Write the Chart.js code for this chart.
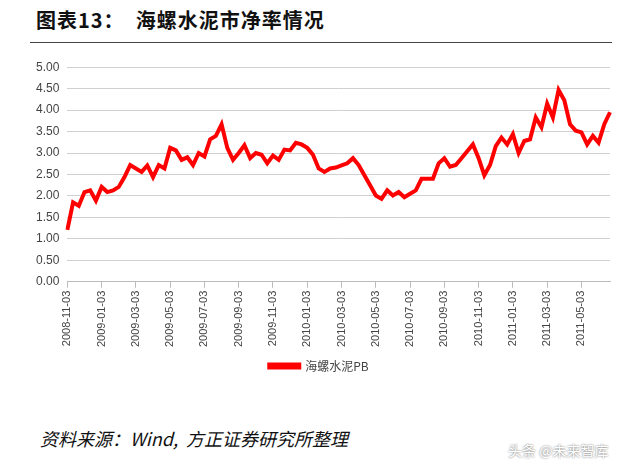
<!DOCTYPE html>
<html><head><meta charset="utf-8">
<script src="https://cdn.jsdelivr.net/npm/chart.js@4"></script>
<style>
body{margin:0;width:640px;height:472px;background:#fff;position:relative;overflow:hidden;font-family:"Noto Sans CJK SC";}
#title{position:absolute;left:36px;top:5px;font-size:20px;font-weight:bold;color:#111;letter-spacing:1px;}
#rule{position:absolute;left:30px;top:42px;width:582px;height:1px;background:#444;}
#wrap{position:absolute;left:0;top:52px;width:640px;height:330px;}
#src{position:absolute;left:40px;top:425px;font-size:18px;font-style:italic;color:#111;}
#wm{position:absolute;left:508px;top:440px;font-size:14px;color:#fff;text-shadow:0 0 2px #555;}
</style></head><body>
<div id="title">图表13：&nbsp;&nbsp;海螺水泥市净率情况</div>
<div id="rule"></div>
<div id="wrap"><canvas id="c"></canvas></div>
<div id="src">资料来源：Wind,&nbsp; 方正证券研究所整理</div>
<div id="wm">头条 @未来智库</div>
<script>
const tickLabels=["2008-11-03","2009-01-03","2009-03-03","2009-05-03","2009-07-03","2009-09-03","2009-11-03","2010-01-03","2010-03-03","2010-05-03","2010-07-03","2010-09-03","2010-11-03","2011-01-03","2011-03-03","2011-05-03"];
const pbValues=[1.21,1.85,1.77,2.09,2.13,1.89,2.21,2.09,2.13,2.21,2.44,2.72,2.64,2.56,2.71,2.44,2.72,2.64,3.12,3.06,2.84,2.90,2.72,3.00,2.92,3.32,3.40,3.67,3.12,2.84,3.00,3.18,2.88,3.00,2.96,2.76,2.94,2.84,3.08,3.06,3.24,3.20,3.12,2.96,2.64,2.56,2.64,2.66,2.71,2.76,2.88,2.72,2.48,2.25,2.01,1.93,2.13,2.01,2.09,1.97,2.05,2.13,2.40,2.40,2.40,2.76,2.88,2.68,2.72,2.88,3.04,3.20,2.88,2.48,2.72,3.16,3.36,3.20,3.44,3.00,3.28,3.32,3.83,3.60,4.15,3.83,4.47,4.23,3.67,3.52,3.48,3.20,3.40,3.24,3.67,3.95];
const seriesName="海螺水泥PB";
const labels=pbValues.map((v,i)=> i%6===0 && tickLabels[i/6] ? tickLabels[i/6] : "");
new Chart(document.getElementById('c'),{type:'line',
data:{labels,datasets:[{label:seriesName,data:pbValues,borderColor:'#ff0000',backgroundColor:'#ff0000',borderWidth:4,pointRadius:0,tension:0}]},
options:{responsive:true,maintainAspectRatio:false,animation:false,
layout:{padding:{left:28,right:30,top:12,bottom:0}},
plugins:{legend:{position:'bottom',labels:{boxWidth:30,boxHeight:3,font:{size:12,family:'Noto Sans CJK SC'},color:'#444'}},tooltip:{enabled:false}},
scales:{
x:{offset:false,afterBuildTicks:a=>{a.ticks=a.ticks.filter(t=>labels[t.value]!=="");},
grid:{display:true,drawOnChartArea:false,color:'#bbb',tickLength:6},border:{color:'#bbb'},
ticks:{autoSkip:false,maxRotation:90,minRotation:90,font:{size:11,family:'Liberation Sans'},color:'#444'}},
y:{min:0,max:5,ticks:{stepSize:0.5,callback:v=>v.toFixed(2),font:{size:12,family:'Liberation Sans'},color:'#444',padding:8},
grid:{color:'#d0d0d0',drawTicks:false},border:{display:false}}}}});
</script></body></html>
